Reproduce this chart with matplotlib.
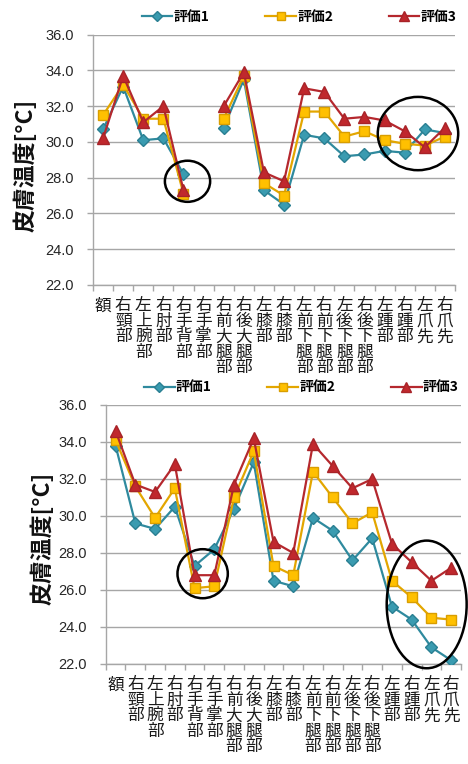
import numpy as np
import matplotlib
matplotlib.use("Agg")
import matplotlib.pyplot as plt
from matplotlib.lines import Line2D
from matplotlib.patches import Ellipse

plt.rcParams['font.family'] = ['Noto Sans CJK JP', 'DejaVu Sans']

# Body sites measured (x-axis categories)
sites = ["額", "右頸部", "左上腕部", "右肘部", "右手背部", "右手掌部",
         "右前大腿部", "右後大腿部", "左膝部", "右膝部", "左前下腿部",
         "右前下腿部", "左後下腿部", "右後下腿部", "左踵部", "右踵部",
         "左爪先", "右爪先"]

series_names = ["評価1", "評価2", "評価3"]

# Upper panel: skin temperature [°C]
upper_eval1 = [30.7, 33.1, 30.1, 30.2, 28.2, np.nan, 30.8, 33.5, 27.3, 26.5,
               30.4, 30.2, 29.2, 29.3, 29.5, 29.4, 30.7, 30.5]
upper_eval2 = [31.5, 33.2, 31.3, 31.3, 27.1, np.nan, 31.3, 33.7, 27.7, 27.0,
               31.7, 31.7, 30.3, 30.6, 30.1, 29.9, 29.8, 30.3]
upper_eval3 = [30.2, 33.7, 31.1, 32.0, 27.3, np.nan, 32.0, 33.9, 28.3, 27.8,
               33.0, 32.8, 31.3, 31.4, 31.2, 30.6, 29.7, 30.8]

# Lower panel: skin temperature [°C]
lower_eval1 = [33.8, 29.6, 29.3, 30.5, 27.3, 28.2, 30.4, 32.9, 26.5, 26.2,
               29.9, 29.2, 27.6, 28.8, 25.1, 24.4, 22.9, 22.2]
lower_eval2 = [34.1, 31.6, 29.9, 31.5, 26.1, 26.2, 31.0, 33.5, 27.3, 26.8,
               32.4, 31.0, 29.6, 30.2, 26.5, 25.6, 24.5, 24.4]
lower_eval3 = [34.6, 31.7, 31.3, 32.8, 26.8, 26.8, 31.7, 34.2, 28.6, 28.0,
               33.9, 32.7, 31.5, 32.0, 28.5, 27.5, 26.5, 27.2]

y_ticks = [22.0, 24.0, 26.0, 28.0, 30.0, 32.0, 34.0, 36.0]

# Highlight rings (centre x, centre y, width, height) in data units
upper_rings = [(4.2, 27.8, 2.25, 2.3), (15.66, 30.47, 4.0, 4.1)]
lower_rings = [(4.41, 26.88, 2.55, 2.65), (15.76, 25.22, 4.05, 6.9)]

styles = [
    dict(color="#2F8A9E", marker="D", ms=6.0, mfc="#3A9BB0", mec="#2A7F92"),
    dict(color="#E3A600", marker="s", ms=7.2, mfc="#FFC000", mec="#D99E00"),
    dict(color="#B5282E", marker="^", ms=8.5, mfc="#C0282D", mec="#A82328"),
]
legend_ms = [5.0, 6.0, 6.5]

grid_col = "#A6A6A6"
tick_font = dict(family=["Liberation Sans", "DejaVu Sans"], size=10.5)


def draw_panel(ax, values, rings, label_xy, legend_xy):
    x = np.arange(len(sites))
    for vals, st in zip(values, styles):
        ax.plot(x, vals, lw=1.6, markeredgewidth=1.0, zorder=3, **st)

    ax.set_xlim(-0.5, len(sites) - 0.5)
    ax.set_ylim(22.0, 36.0)
    ax.set_yticks(y_ticks)
    ax.set_yticklabels([f"{v:.1f}" for v in y_ticks], **tick_font,
                       color="#262626")
    ax.yaxis.grid(True, color=grid_col, lw=1.0)
    ax.set_axisbelow(True)

    # category boundaries carry the tick marks, centres carry the labels
    ax.set_xticks(np.arange(len(sites) + 1) - 0.5)
    ax.set_xticklabels([])
    ax.set_xticks(x, minor=True)
    ax.set_xticklabels(["\n".join(s) for s in sites], minor=True,
                       fontsize=12, linespacing=0.88, va="top",
                       color="#1a1a1a")
    ax.tick_params(axis="x", which="major", length=4.5, color=grid_col,
                   width=1.0)
    ax.tick_params(axis="x", which="minor", length=0, pad=9)
    ax.tick_params(axis="y", length=4.5, color=grid_col, width=1.0, pad=9)

    for side in ("top", "right"):
        ax.spines[side].set_visible(False)
    for side in ("left", "bottom"):
        ax.spines[side].set_color(grid_col)
        ax.spines[side].set_linewidth(1.0)

    ax.set_ylabel("皮膚温度[°C]", fontsize=16.5, fontweight="bold",
                  color="#111111")
    ax.yaxis.label.set_va("center")
    ax.yaxis.set_label_coords(*label_xy)

    for cx, cy, w, h in rings:
        ax.add_patch(Ellipse((cx, cy), w, h, fill=False, ec="black",
                             lw=1.8, zorder=5, clip_on=False))

    handles = [Line2D([], [], lw=1.6, markeredgewidth=1.0,
                      **{**st, "ms": m}) for st, m in zip(styles, legend_ms)]
    ax.legend(handles, series_names, loc="center left",
              bbox_to_anchor=legend_xy, ncol=3, frameon=False,
              handlelength=2.2, handletextpad=0.1, columnspacing=4.0,
              borderpad=0, borderaxespad=0,
              prop=dict(size=10, weight="bold"))


fig = plt.figure(figsize=(4.68, 7.64), dpi=100)
ax_top = fig.add_axes([0.1987, 0.6270, 0.7735, 0.3276])
ax_bot = fig.add_axes([0.2259, 0.1309, 0.7592, 0.3390])

draw_panel(ax_top, [upper_eval1, upper_eval2, upper_eval3], upper_rings,
           (-0.185, 0.479), (0.135, 1.07))
draw_panel(ax_bot, [lower_eval1, lower_eval2, lower_eval3], lower_rings,
           (-0.176, 0.486), (0.108, 1.068))

fig.savefig("out.png", dpi=100)
